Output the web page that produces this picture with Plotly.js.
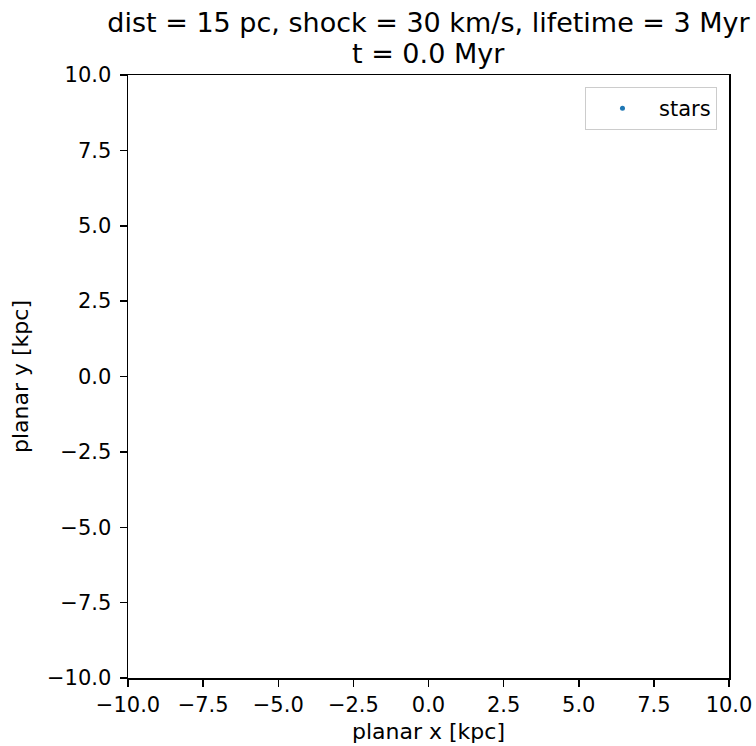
<!DOCTYPE html>
<html>
<head>
<meta charset="utf-8">
<script src="https://cdn.plot.ly/plotly-3.0.1.min.js"></script>
<style>html,body{margin:0;padding:0;background:#fff;}#chart{width:756px;height:746px;}</style>
</head>
<body>
<div id="chart"></div>
<script>
// Data: the frame at t = 0.0 Myr shows no stars inside the window (missing values)
const starsX = [null];
const starsY = [null];
const seriesName = "stars";
const titleLines = ["dist = 15 pc, shock = 30 km/s, lifetime = 3 Myr", "t = 0.0 Myr"];
const xTickVals = [-10, -7.5, -5, -2.5, 0, 2.5, 5, 7.5, 10];
const yTickVals = [-10, -7.5, -5, -2.5, 0, 2.5, 5, 7.5, 10];
const xLabel = "planar x [kpc]";
const yLabel = "planar y [kpc]";

const fontFam = "DejaVu Sans, sans-serif";
const axisCommon = {
  range: [-10, 10],
  showgrid: false,
  zeroline: false,
  showline: true,
  mirror: true,
  linecolor: "#000",
  linewidth: 1.5,
  ticks: "outside",
  ticklen: 7,
  tickwidth: 1.5,
  tickcolor: "#000",
  tickmode: "array",
  tickfont: {family: fontFam, size: 21, color: "#000"},
};

const trace = {
  x: starsX,
  y: starsY,
  type: "scatter",
  mode: "markers",
  name: seriesName,
  marker: {color: "#1f77b4", size: 5},
  showlegend: true
};

const layout = {
  width: 756,
  height: 746,
  margin: {l: 128, r: 27, t: 75, b: 68},
  paper_bgcolor: "#fff",
  plot_bgcolor: "#fff",
  font: {family: fontFam, color: "#000"},
  showlegend: true,
  title: {
    text: titleLines[0],
    font: {family: fontFam, size: 27, color: "#000"},
    x: 0.5, xref: "paper", xanchor: "center",
    y: 0.970, yref: "container", yanchor: "middle"
  },
  annotations: [{
    text: titleLines[1],
    font: {family: fontFam, size: 27, color: "#000"},
    x: 0.5, xref: "paper", xanchor: "center",
    y: 1.0357, yref: "paper", yanchor: "middle",
    showarrow: false
  }],
  xaxis: Object.assign({}, axisCommon, {
    tickvals: xTickVals,
    ticktext: xTickVals.map(v => (v < 0 ? "\u2212" : "") + Math.abs(v).toFixed(1)),
    title: {text: xLabel, font: {family: fontFam, size: 22, color: "#000"}, standoff: 8}
  }),
  yaxis: Object.assign({}, axisCommon, {
    tickvals: yTickVals,
    ticktext: yTickVals.map(v => (v < 0 ? "\u2212" : "") + Math.abs(v).toFixed(1)),
    ticklabelstandoff: 4,
    title: {text: yLabel, font: {family: fontFam, size: 22, color: "#000"}, standoff: 12}
  }),
  legend: {
    x: 0.980, y: 0.980, xanchor: "right", yanchor: "top",
    bgcolor: "rgba(255,255,255,0.8)",
    bordercolor: "#cccccc",
    borderwidth: 1,
    font: {family: fontFam, size: 21, color: "#000"},
    itemwidth: 63
  }
};

Plotly.newPlot("chart", [trace], layout, {displayModeBar: false, staticPlot: true});
</script>
</body>
</html>
